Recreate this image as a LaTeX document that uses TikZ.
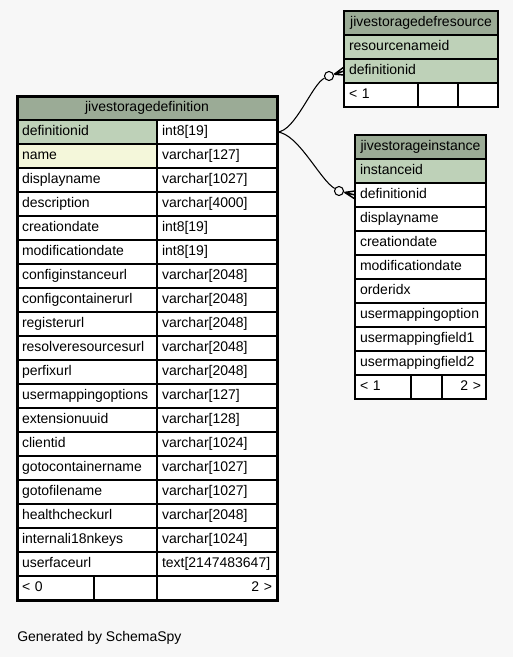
\documentclass[tikz,border=0pt]{standalone}
\usepackage{fontspec}
\setmainfont{Liberation Sans}
\usetikzlibrary{calc}
\definecolor{bgc}{HTML}{F7F7F7}
\definecolor{hdr}{HTML}{9BAB96}
\definecolor{pk}{HTML}{BED1B8}
\definecolor{idx}{HTML}{F4F7DA}
\tikzset{
 cellbox/.style={draw=black, line width=0.8pt, anchor=north west, inner xsep=3.75pt, inner ysep=0pt, outer sep=0pt, minimum height=18pt, text height=7.7pt, text depth=2.3pt, font=\fontsize{10.5}{12}\selectfont},
 hdrbox/.style={cellbox, inner xsep=0pt, fill=hdr},
 link/.style={draw=black, line width=0.8pt},
 odot/.style={circle, draw=black, line width=0.8pt, fill=bgc, minimum size=6.75pt, inner sep=0pt},
}
\newcommand\tcell[7]{%
 \pgfmathsetmacro\cw{(#4-#2)*0.75-7.5}%
 \node[cellbox, fill=#5, align=#6, text width=\cw pt] (#1) at (#2,#3) {#7};}
\newcommand\hcell[5]{%
 \pgfmathsetmacro\cw{(#4-#2)*0.75}%
 \node[hdrbox, minimum width=\cw pt] (#1) at (#2,#3) {#5};}
\begin{document}
\begin{tikzpicture}[x=0.75pt,y=-0.75pt]
\fill[bgc] (0,0) rectangle (513,657);
\useasboundingbox (0,0) rectangle (513,657);

% main table
\hcell{sd-head}{17}{96}{277}{jivestoragedefinition}
\foreach \n/\t/\f [count=\i from 0] in {
 definitionid/{int8[19]}/pk,
 name/{varchar[127]}/idx,
 displayname/{varchar[1027]}/white,
 description/{varchar[4000]}/white,
 creationdate/{int8[19]}/white,
 modificationdate/{int8[19]}/white,
 configinstanceurl/{varchar[2048]}/white,
 configcontainerurl/{varchar[2048]}/white,
 registerurl/{varchar[2048]}/white,
 resolveresourcesurl/{varchar[2048]}/white,
 perfixurl/{varchar[2048]}/white,
 usermappingoptions/{varchar[127]}/white,
 extensionuuid/{varchar[128]}/white,
 clientid/{varchar[1024]}/white,
 gotocontainername/{varchar[1027]}/white,
 gotofilename/{varchar[1027]}/white,
 healthcheckurl/{varchar[2048]}/white,
 internali18nkeys/{varchar[1024]}/white,
 userfaceurl/{text[2147483647]}/white}{
  \pgfmathsetmacro\yy{120+24*\i}
  \tcell{sd-n\i}{17}{\yy}{157}{\f}{left}{\n}
  \tcell{sd-t\i}{157}{\yy}{277}{white}{left}{\t}
}
\tcell{sd-f1}{17}{576}{94}{white}{left}{< 0}
\tcell{sd-f2}{94}{576}{157}{white}{left}{}
\tcell{sd-f3}{157}{576}{277}{white}{right}{2 >}
\draw[line width=2.25pt] (sd-head.north west) rectangle (sd-f3.south east);

% jivestoragedefresource
\hcell{dr-head}{344}{11}{498}{jivestoragedefresource}
\tcell{dr-r1}{344}{35}{498}{pk}{left}{resourcenameid}
\tcell{dr-r2}{344}{59}{498}{pk}{left}{definitionid}
\tcell{dr-f1}{344}{83}{418}{white}{left}{< 1}
\tcell{dr-f2}{418}{83}{458}{white}{left}{}
\tcell{dr-f3}{458}{83}{498}{white}{left}{}
\draw[line width=0.8pt] (dr-head.north west) rectangle (dr-f3.south east);

% jivestorageinstance
\hcell{si-head}{355}{135}{486}{jivestorageinstance}
\foreach \n/\f [count=\i from 1] in {
 instanceid/pk, definitionid/white, displayname/white, creationdate/white,
 modificationdate/white, orderidx/white, usermappingoption/white,
 usermappingfield1/white, usermappingfield2/white}{
  \pgfmathsetmacro\yy{135+24*\i}
  \tcell{si-r\i}{355}{\yy}{486}{\f}{left}{\n}
}
\tcell{si-f1}{355}{375}{411}{white}{left}{< 1}
\tcell{si-f2}{411}{375}{442}{white}{left}{}
\tcell{si-f3}{442}{375}{486}{white}{right}{2 >}
\draw[line width=0.8pt] (si-head.north west) rectangle (si-f3.south east);

% connectors
\node[odot] (o1) at (329,76) {};
\draw[link] (sd-t0.east) .. controls (295,132) and (312,84) .. (o1);
\coordinate (v1) at ($(o1)!0.36!(dr-r2.west)$);
\draw[link] (o1) -- (v1);
\draw[link, line width=1.1pt] (v1) -- ($(dr-r2.west)+(0,-4)$) (v1) -- (dr-r2.west) (v1) -- ($(dr-r2.west)+(0,4)$);

\node[odot] (o2) at (339,191) {};
\draw[link] (sd-t0.east) .. controls (298,133) and (320,180) .. (o2);
\coordinate (v2) at ($(o2)!0.36!(si-r2.west)$);
\draw[link] (o2) -- (v2);
\draw[link, line width=1.1pt] (v2) -- ($(si-r2.west)+(0,-4)$) (v2) -- (si-r2.west) (v2) -- ($(si-r2.west)+(0,4)$);

\node[anchor=base west, inner sep=0pt, font=\fontsize{10.5}{12}\selectfont] (gen) at (17,641) {Generated by SchemaSpy};
\end{tikzpicture}
\end{document}
